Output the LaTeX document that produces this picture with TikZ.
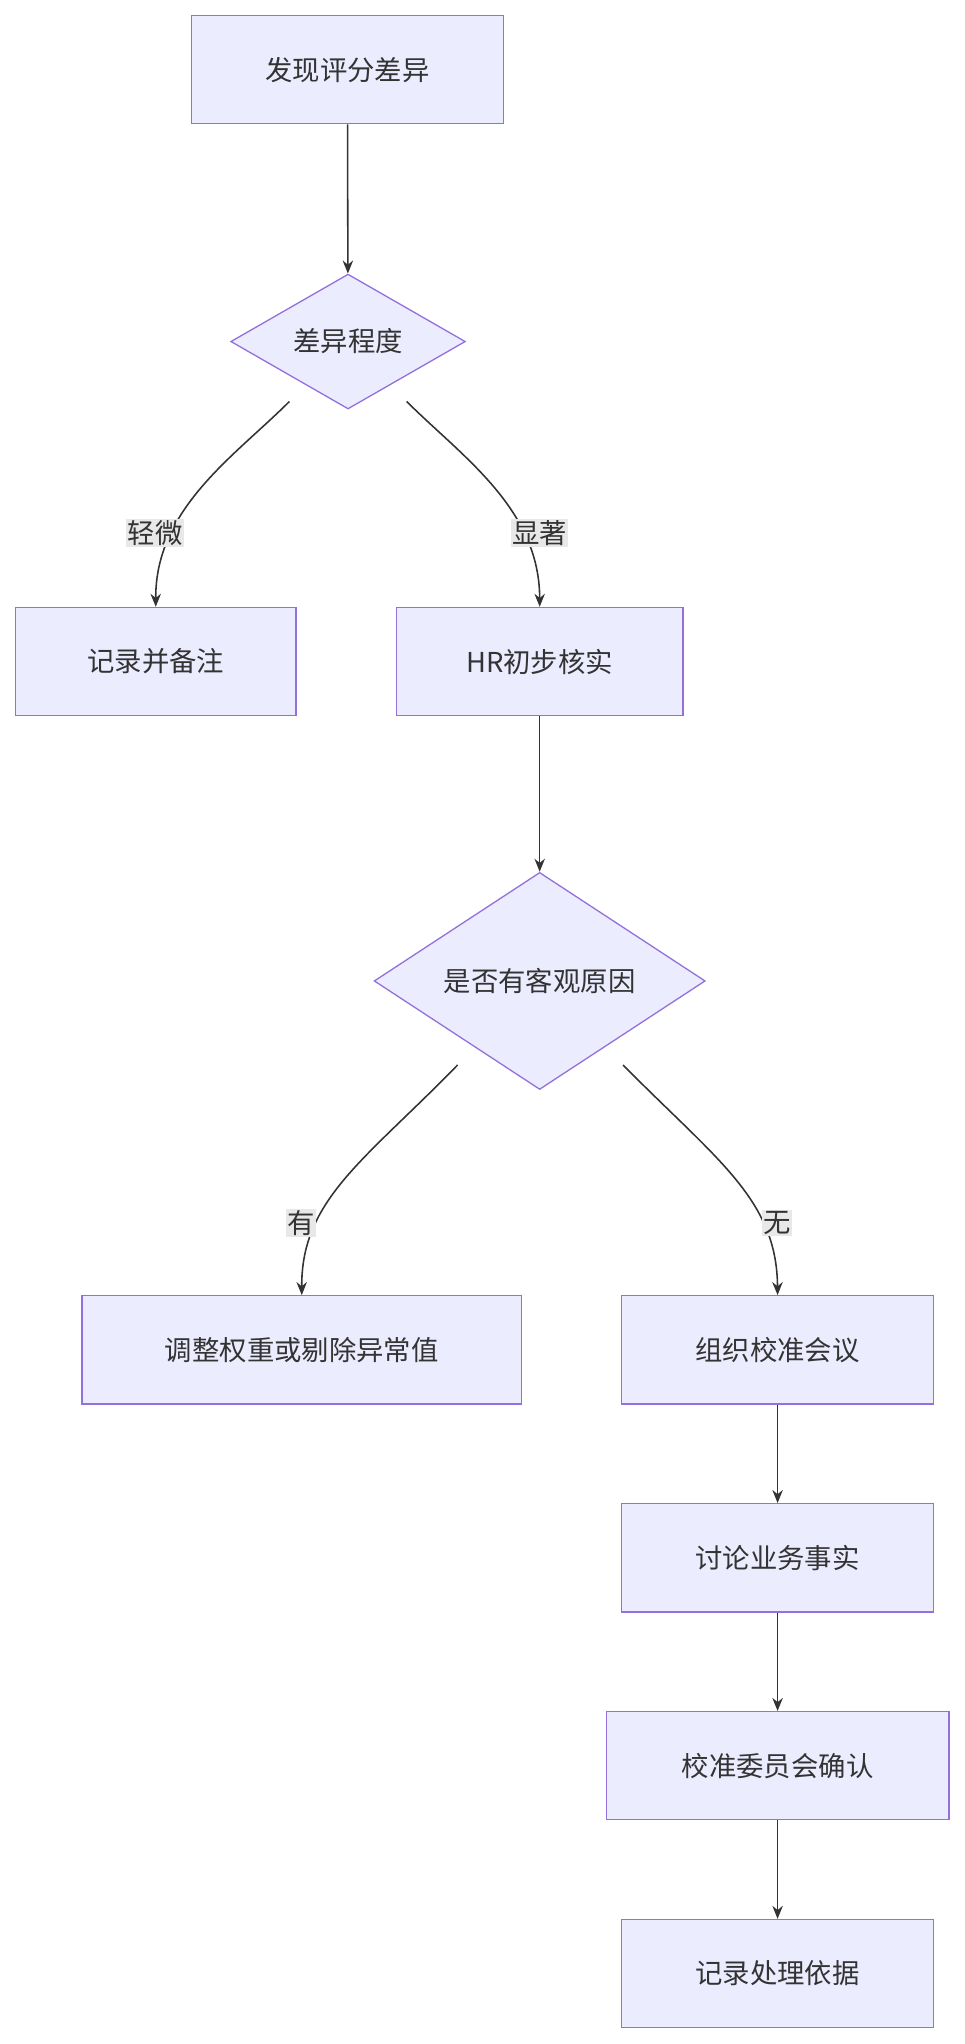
\documentclass[tikz,border=0pt]{standalone}
\usepackage{fontspec}
\setmainfont{Noto Sans CJK SC}
\usetikzlibrary{shapes.geometric,arrows.meta}
\definecolor{nfill}{HTML}{ECECFF}
\definecolor{nline}{HTML}{9370DB}
\definecolor{ecol}{HTML}{333333}
\definecolor{lbg}{HTML}{E8E8E8}
\begin{document}
\begin{tikzpicture}[x=1pt,y=-1pt,
 box/.style={draw=nline,fill=nfill,line width=1pt,minimum height=83pt,font=\fontsize{21}{24}\selectfont,text=ecol},
 dia/.style={draw=nline,fill=nfill,line width=1pt,diamond,aspect=1,inner sep=0pt,font=\fontsize{21}{24}\selectfont,text=ecol},
 lab/.style={fill=lbg,inner sep=1pt,font=\fontsize{21}{24}\selectfont,text=ecol},
 arr/.style={draw=ecol,line width=1.2pt,-{Stealth[length=10pt,width=8pt]}}]
\useasboundingbox (0,0) rectangle (740,1568);
\node[box,minimum width=239pt] (a) at (266.5,53.5) {发现评分差异};
\node[dia,minimum width=180pt] (d1) at (267,262) {差异程度};
\node[box,minimum width=215pt] (b) at (119.5,507.5) {记录并备注};
\node[box,minimum width=220pt] (c) at (414,507.5) {HR初步核实};
\node[dia,minimum width=254pt] (d2) at (414,752.5) {是否有客观原因};
\node[box,minimum width=337pt] (e) at (231.5,1035.5) {调整权重或剔除异常值};
\node[box,minimum width=239pt] (f) at (596.5,1035.5) {组织校准会议};
\node[box,minimum width=239pt] (g) at (596.5,1195) {讨论业务事实};
\node[box,minimum width=263pt] (h) at (596.5,1354.5) {校准委员会确认};
\node[box,minimum width=239pt] (i) at (596.5,1514) {记录处理依据};
\coordinate (p1) at (222,308); \coordinate (p2) at (312,308);
\coordinate (p3) at (351,817); \coordinate (p4) at (478,817);
\draw[arr] (a) -- (d1);
\draw[arr] (p1) .. controls (180,350) and (119,390) .. (b.north);
\draw[arr] (p2) .. controls (354,350) and (414,390) .. (c.north);
\draw[arr] (c) -- (d2);
\draw[arr] (p3) .. controls (280,890) and (231,920) .. (e.north);
\draw[arr] (p4) .. controls (550,890) and (596,920) .. (f.north);
\draw[arr] (f) -- (g);
\draw[arr] (g) -- (h);
\draw[arr] (h) -- (i);
\node[lab] (l1) at (119,409) {轻微};
\node[lab] (l2) at (414,409) {显著};
\node[lab] (l3) at (231,938) {有};
\node[lab] (l4) at (596,938) {无};
\end{tikzpicture}
\end{document}
